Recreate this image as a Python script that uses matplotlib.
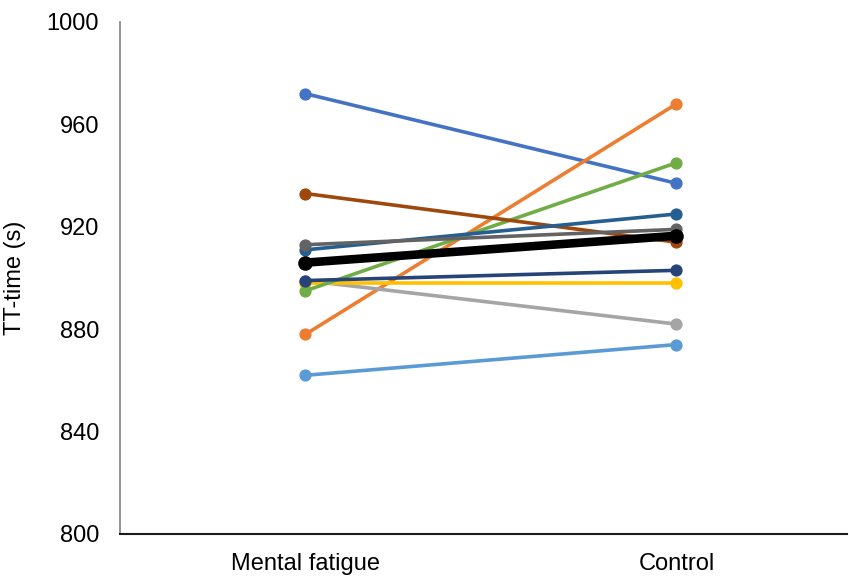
import matplotlib
matplotlib.use("Agg")
import matplotlib.pyplot as plt

plt.rcParams["font.family"] = ["Liberation Sans", "DejaVu Sans"]

conditions = ["Mental fatigue", "Control"]
mental = [972, 878, 899, 898, 862, 895, 899, 933, 911, 913]
control = [937, 968, 882, 898, 874, 945, 903, 914, 925, 919]
colors = ["#4472C4", "#ED7D31", "#A5A5A5", "#FFC000", "#5B9BD5",
          "#70AD47", "#264478", "#9E480E", "#255E91", "#636363"]
mean_vals = [906.0, 916.5]
yticks = [800, 840, 880, 920, 960, 1000]

fig = plt.figure(figsize=(8.49, 5.76), dpi=100)
ax = fig.add_axes([120 / 849, 1 - 534 / 576, 727 / 849, 512 / 576])

xs = range(len(conditions))
for m, c, col in zip(mental, control, colors):
    ax.plot(xs, [m, c], color=col, lw=2.6, marker="o", ms=7.8)
ax.plot(xs, mean_vals, color="black", lw=6.2, marker="o", ms=9.5)

ax.set_xlim(-0.5, 1.46)
ax.set_ylim(800, 1000)
ax.set_yticks(yticks)
ax.set_xticks(list(xs))
ax.set_xticklabels(conditions)
ax.tick_params(length=0, labelsize=17)
ax.tick_params(axis="x", pad=14)
ax.tick_params(axis="y", pad=15)
ax.set_ylabel("TT-time (s)", fontsize=17)
ax.yaxis.set_label_coords(-0.129, 0.5)

ax.spines["top"].set_visible(False)
ax.spines["right"].set_visible(False)
ax.spines["left"].set_color("#7f7f7f")
ax.spines["bottom"].set_color("#1a1a1a")
ax.spines["left"].set_linewidth(1.2)
ax.spines["bottom"].set_linewidth(1.5)

fig.savefig("out.png", dpi=100)
